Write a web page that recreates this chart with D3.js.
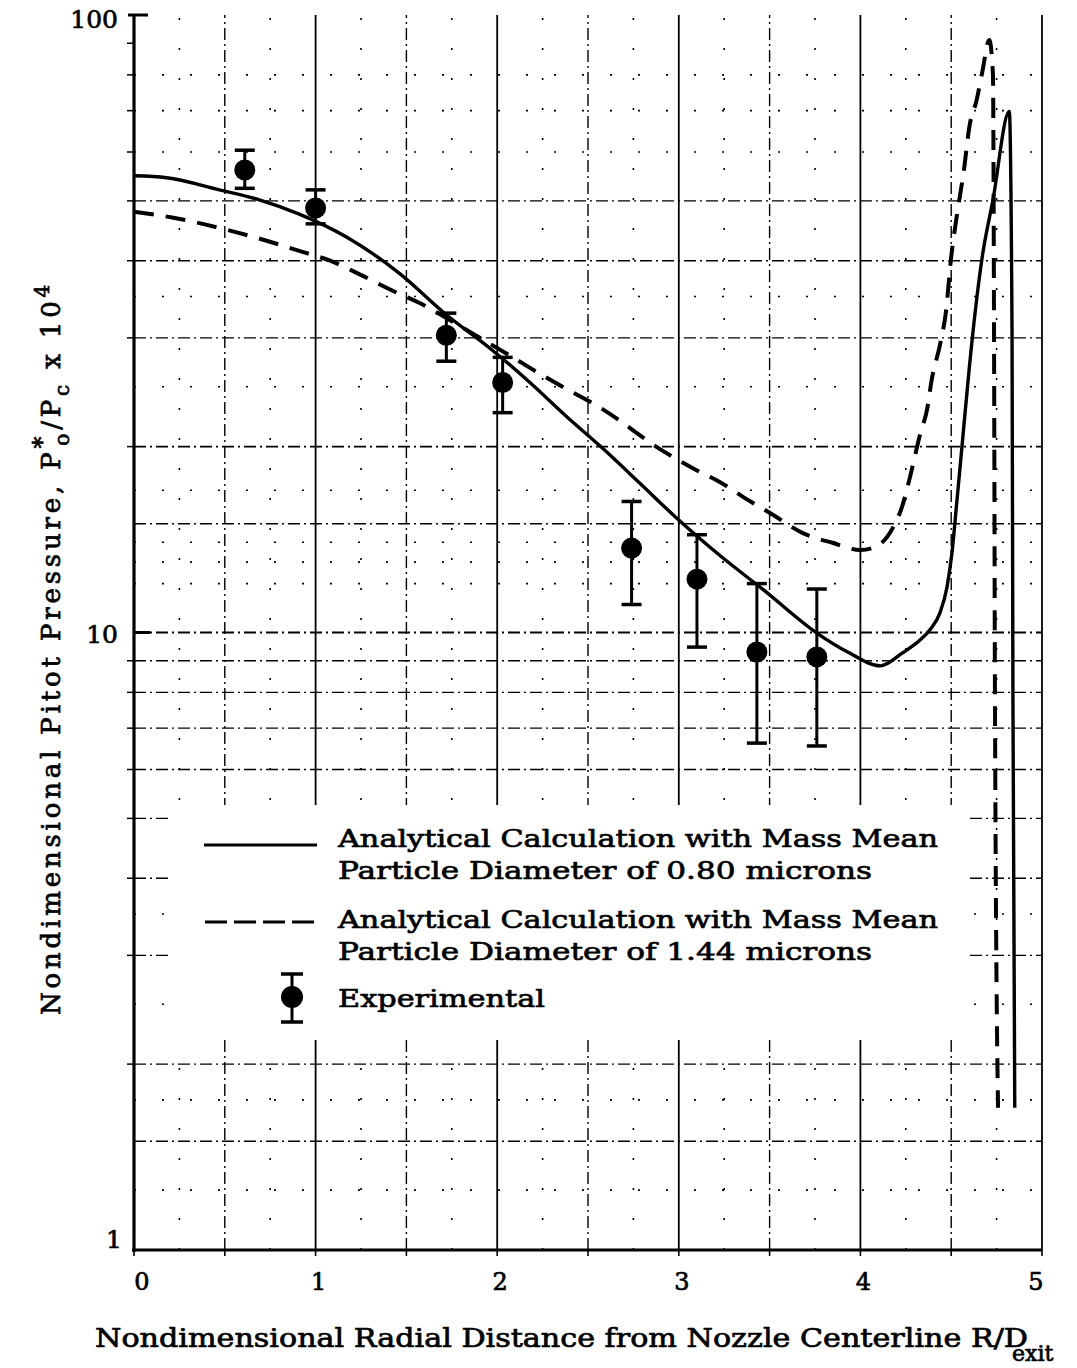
<!DOCTYPE html>
<html>
<head>
<meta charset="utf-8">
<script src="https://cdn.jsdelivr.net/npm/d3@7"></script>
<style>
  html, body { margin: 0; padding: 0; background: #fff; }
  svg text { font-family: "DejaVu Serif", "Liberation Serif", serif; fill: #000; }
</style>
</head>
<body>
<svg id="chart" width="1077" height="1368"></svg>
<script>
// Axis ticks
const xTickValues = [0, 1, 2, 3, 4, 5];
const yTickValues = [1, 10, 100];
const yTickLabels = ["1", "10", "100"];

// Graph-paper grid positions
const gridSolidX = [1, 2, 3, 4, 5];
const gridDashX = [0.5, 1.5, 2.5, 3.5, 4.5];
const gridDotX = [0.25, 0.75, 1.25, 1.75, 2.25, 2.75, 3.25, 3.75, 4.25, 4.75];
const gridDashY = [1.5, 2, 3, 4, 5, 6, 7, 8, 9, 10, 15, 20, 30, 40, 50];
const gridDotY = [1.25, 1.75, 2.5, 3.5, 12, 13, 14, 17, 25, 35, 60, 70, 80];
const minorTickY = [2, 3, 4, 5, 6, 7, 8, 9, 20, 30, 40, 50, 60, 70, 80, 90];

// Analytical calculation, mass mean particle diameter 0.80 microns
const fineR = [0.00, 0.18, 0.47, 0.69, 0.91, 1.17, 1.46, 1.72, 1.97, 2.18, 2.38, 2.57, 2.79, 2.98,
               3.23, 3.47, 3.76, 3.93, 4.11, 4.23, 4.33, 4.383, 4.438, 4.477, 4.504, 4.532, 4.56, 4.60,
               4.64, 4.67, 4.73, 4.82, 4.835, 4.84, 4.85];
const fineP = [54.9, 54.5, 52.1, 50.2, 47.6, 43.7, 38.2, 32.7, 28.7, 25.4, 22.4, 20.0, 17.4, 15.4,
               13.3, 11.7, 9.98, 9.30, 8.83, 9.26, 9.73, 10.1, 10.76, 11.85, 13.45, 16.4, 20.1, 26.9,
               34.6, 40.4, 50.2, 69.8, 30.6, 7.76, 1.70];

// Analytical calculation, mass mean particle diameter 1.44 microns
const coarseR = [0.00, 0.21, 0.39, 0.56, 0.73, 0.91, 1.08, 1.26, 1.43, 1.57, 1.72, 1.88, 2.06, 2.22,
                 2.36, 2.57, 2.91, 3.10, 3.23, 3.38, 3.52, 3.68, 3.85, 4.00, 4.09, 4.18, 4.23, 4.27,
                 4.33, 4.37, 4.39, 4.44, 4.47, 4.50, 4.53, 4.57, 4.60, 4.64, 4.67, 4.71, 4.73, 4.736,
                 4.741, 4.758];
const coarseP = [48.0, 47.0, 45.8, 44.5, 43.1, 41.5, 40.0, 37.8, 35.7, 34.2, 32.3, 30.3, 28.2, 26.4,
                 25.0, 23.1, 19.7, 18.3, 17.5, 16.4, 15.5, 14.5, 13.96, 13.6, 13.8, 14.8, 16.0, 17.7,
                 21.0, 23.2, 25.4, 29.4, 32.9, 40.6, 47.1, 56.1, 65.9, 72.8, 80.5, 91.1, 80.0, 29.8,
                 7.8, 1.7];

// Experimental measurements with error bars
const expR     = [0.61, 1.00, 1.72, 2.03, 2.74, 3.10, 3.43, 3.76];
const expP     = [56.1, 48.7, 30.3, 25.4, 13.7, 12.2, 9.30, 9.13];
const expHigh  = [60.4, 52.1, 32.9, 27.9, 16.3, 14.4, 12.0, 11.76];
const expLow   = [52.4, 45.9, 27.5, 22.7, 11.1, 9.47, 6.62, 6.55];

const legendLines = [
  ["Analytical Calculation with Mass Mean", "Particle Diameter of 0.80 microns"],
  ["Analytical Calculation with Mass Mean", "Particle Diameter of 1.44 microns"],
  ["Experimental"]
];

const svg = d3.select("#chart");
const x = d3.scaleLinear().domain([0, 5]).range([134, 1042]);
const y = d3.scaleLog().domain([1, 100]).range([1250, 15]);
const [yBottom, yTop] = y.range();
const [xLeft, xRight] = x.range();
const textStroke = 0.7;

// ---- grid ----
const grid = svg.append("g").attr("stroke", "#000").attr("fill", "none");
grid.selectAll("line.gdy").data(gridDashY).join("line")
  .attr("x1", xLeft).attr("x2", xRight)
  .attr("y1", d => y(d)).attr("y2", d => y(d))
  .attr("stroke-width", d => (d === 10 || d === 20) ? 1.8 : 1.4)
  .attr("stroke-dasharray", "12,4,2,4");
grid.selectAll("line.gdoty").data(gridDotY).join("line")
  .attr("x1", xLeft).attr("x2", xRight)
  .attr("y1", d => y(d)).attr("y2", d => y(d))
  .attr("stroke-width", 1.6)
  .attr("stroke-dasharray", "2,26");
grid.selectAll("line.gsx").data(gridSolidX).join("line")
  .attr("x1", d => x(d)).attr("x2", d => x(d))
  .attr("y1", yBottom).attr("y2", yTop)
  .attr("stroke-width", 1.8);
grid.selectAll("line.gdx").data(gridDashX).join("line")
  .attr("x1", d => x(d)).attr("x2", d => x(d))
  .attr("y1", yBottom).attr("y2", yTop)
  .attr("stroke-width", 1.4)
  .attr("stroke-dasharray", "12,4,2,4");
grid.selectAll("line.gdotx").data(gridDotX).join("line")
  .attr("x1", d => x(d)).attr("x2", d => x(d))
  .attr("y1", yBottom).attr("y2", yTop)
  .attr("stroke-width", 1.6)
  .attr("stroke-dasharray", "2,28");

// ---- legend backing (grid is interrupted behind the key) ----
svg.append("rect").attr("x", 172).attr("y", 805).attr("width", 798).attr("height", 235).attr("fill", "#fff");

// ---- axes ----
const axes = svg.append("g").attr("stroke", "#000").attr("fill", "none");
axes.append("line").attr("x1", xLeft).attr("x2", xLeft).attr("y1", yTop - 1).attr("y2", yBottom + 2).attr("stroke-width", 3.2);
axes.append("line").attr("x1", xLeft - 2).attr("x2", xRight).attr("y1", yBottom).attr("y2", yBottom).attr("stroke-width", 3.2);
axes.append("line").attr("x1", xLeft - 6).attr("x2", xLeft + 14).attr("y1", y(100)).attr("y2", y(100)).attr("stroke-width", 3);
axes.append("line").attr("x1", xLeft).attr("x2", xLeft + 16).attr("y1", y(10)).attr("y2", y(10)).attr("stroke-width", 3);
axes.selectAll("line.mt").data(minorTickY).join("line")
  .attr("x1", xLeft - 7).attr("x2", xLeft)
  .attr("y1", d => y(d)).attr("y2", d => y(d)).attr("stroke-width", 1.5);
axes.selectAll("line.bt").data(d3.range(0, 5.01, 0.5)).join("line")
  .attr("x1", d => x(d)).attr("x2", d => x(d))
  .attr("y1", yBottom).attr("y2", yBottom + 6).attr("stroke-width", 1.6);

// tick labels
svg.append("g").selectAll("text").data(yTickValues).join("text")
  .attr("x", (d, i) => i === 0 ? 122 : 118)
  .attr("y", d => y(d) + (d === 100 ? 13 : d === 1 ? -2 : 10))
  .attr("text-anchor", "end")
  .attr("font-size", 25).attr("stroke", "#000").attr("stroke-width", textStroke)
  .text((d, i) => yTickLabels[i]);
svg.append("g").selectAll("text").data(xTickValues).join("text")
  .attr("x", d => x(d) + (d === 0 ? 8 : d === 5 ? -6 : 3))
  .attr("y", 1290)
  .attr("text-anchor", "middle")
  .attr("font-size", 24).attr("stroke", "#000").attr("stroke-width", textStroke)
  .text(d => d);

// ---- axis titles ----
svg.append("text")
  .attr("x", 95).attr("y", 1347)
  .attr("font-size", 26).attr("stroke", "#000").attr("stroke-width", textStroke)
  .attr("textLength", 933).attr("lengthAdjust", "spacingAndGlyphs")
  .text("Nondimensional Radial Distance from Nozzle Centerline R/D");
svg.append("text")
  .attr("x", 1012).attr("y", 1361)
  .attr("font-size", 22).attr("stroke", "#000").attr("stroke-width", textStroke)
  .text("exit");

const yt = svg.append("text")
  .attr("transform", "translate(60,1015) rotate(-90)")
  .attr("font-size", 26).attr("stroke", "#000").attr("stroke-width", textStroke);
yt.append("tspan").text("Nondimensional Pitot Pressure, P");
yt.append("tspan").attr("font-size", 24).attr("dy", -10).text("*");
yt.append("tspan").attr("font-size", 20).attr("dx", -13).attr("dy", 19).text("o");
yt.append("tspan").attr("dy", -9).text("/P");
yt.append("tspan").attr("font-size", 20).attr("dy", 9).text("c");
yt.append("tspan").attr("dy", -9).text(" x 10");
yt.append("tspan").attr("font-size", 20).attr("dy", -11).text("4");
// stretch the title to its span along the axis
const ytLen = yt.node().getComputedTextLength();
const ytChars = yt.text().length;
yt.attr("letter-spacing", ((747 - ytLen) / ytChars).toFixed(2));

// ---- curves ----
const line = d3.line().x(d => x(d[0])).y(d => y(d[1])).curve(d3.curveMonotoneX);
svg.append("path")
  .datum(fineR.map((r, i) => [r, fineP[i]]))
  .attr("d", line).attr("fill", "none").attr("stroke", "#000")
  .attr("stroke-width", 3.4).attr("stroke-linejoin", "round");
svg.append("path")
  .datum(coarseR.map((r, i) => [r, coarseP[i]]))
  .attr("d", line).attr("fill", "none").attr("stroke", "#000")
  .attr("stroke-width", 4).attr("stroke-dasharray", "20,12");

// ---- experimental points ----
const pts = svg.append("g").attr("stroke", "#000").attr("fill", "#000");
expR.forEach((r, i) => {
  const cx = x(r);
  pts.append("line").attr("x1", cx).attr("x2", cx).attr("y1", y(expHigh[i])).attr("y2", y(expLow[i])).attr("stroke-width", 3);
  pts.append("line").attr("x1", cx - 10).attr("x2", cx + 10).attr("y1", y(expHigh[i])).attr("y2", y(expHigh[i])).attr("stroke-width", 3.5);
  pts.append("line").attr("x1", cx - 10).attr("x2", cx + 10).attr("y1", y(expLow[i])).attr("y2", y(expLow[i])).attr("stroke-width", 3.5);
  pts.append("circle").attr("cx", cx).attr("cy", y(expP[i])).attr("r", 10.5).attr("stroke", "none");
});

// ---- legend ----
const lg = svg.append("g");
lg.append("line").attr("x1", 204).attr("x2", 317).attr("y1", 845).attr("y2", 845)
  .attr("stroke", "#000").attr("stroke-width", 3);
lg.append("line").attr("x1", 205).attr("x2", 318).attr("y1", 922).attr("y2", 922)
  .attr("stroke", "#000").attr("stroke-width", 3).attr("stroke-dasharray", "22,7");
lg.append("line").attr("x1", 292).attr("x2", 292).attr("y1", 974).attr("y2", 1022).attr("stroke", "#000").attr("stroke-width", 3);
lg.append("line").attr("x1", 281).attr("x2", 303).attr("y1", 974).attr("y2", 974).attr("stroke", "#000").attr("stroke-width", 3.5);
lg.append("line").attr("x1", 281).attr("x2", 303).attr("y1", 1022).attr("y2", 1022).attr("stroke", "#000").attr("stroke-width", 3.5);
lg.append("circle").attr("cx", 292).attr("cy", 997).attr("r", 11).attr("fill", "#000");

const legendRows = [
  { text: legendLines[0][0], y: 847, len: 600 },
  { text: legendLines[0][1], y: 879, len: 534 },
  { text: legendLines[1][0], y: 928, len: 600 },
  { text: legendLines[1][1], y: 960, len: 534 },
  { text: legendLines[2][0], y: 1007, len: 207 }
];
lg.selectAll("text").data(legendRows).join("text")
  .attr("x", 338).attr("y", d => d.y)
  .attr("font-size", 25).attr("stroke", "#000").attr("stroke-width", textStroke)
  .attr("textLength", d => d.len).attr("lengthAdjust", "spacingAndGlyphs")
  .text(d => d.text);
</script>
</body>
</html>
